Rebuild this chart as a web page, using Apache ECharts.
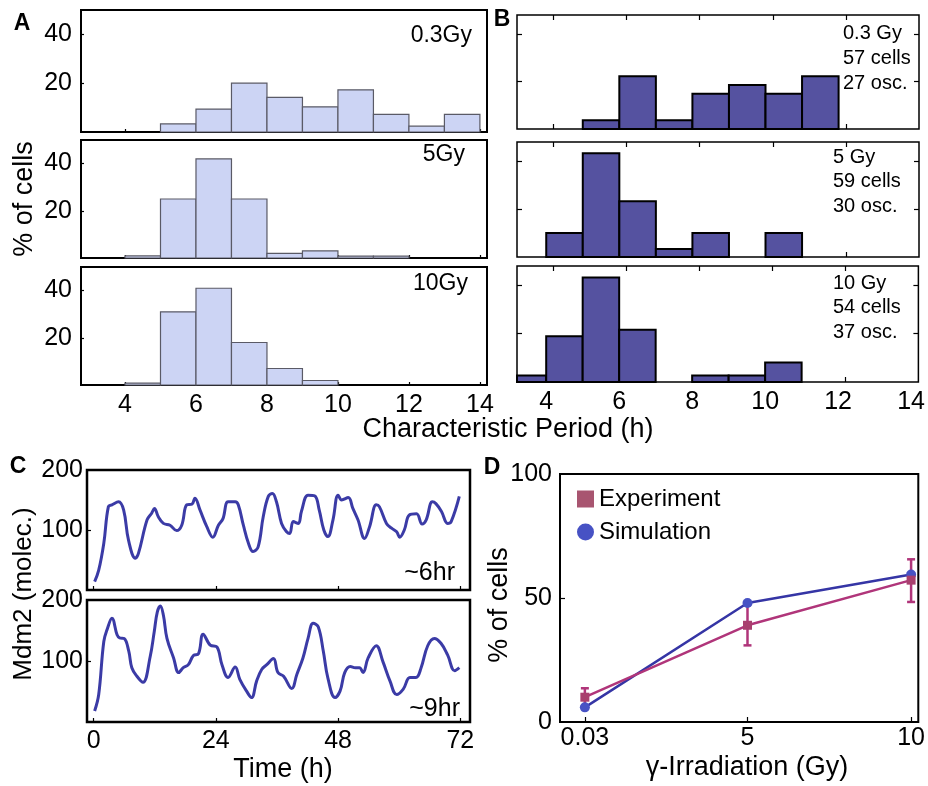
<!DOCTYPE html>
<html>
<head>
<meta charset="utf-8">
<script src="https://cdn.jsdelivr.net/npm/echarts@6/dist/echarts.min.js"></script>
<style>
  html, body { margin: 0; padding: 0; background: #fff; }
  #fig { width: 928px; height: 786px; }
</style>
</head>
<body>
<div id="fig"></div>
<script>
// ---- data ----
// A: characteristic period histograms (% of cells), bins of 1 h starting at binLeftA
const periodTicks = [4, 6, 8, 10, 12, 14];
const binLeftA = [4, 5, 6, 7, 8, 9, 10, 11, 12, 13];
const pctA_03 = [0, 3.3, 9.4, 20, 14.2, 10.3, 17.3, 7.2, 2.4, 7.2];
const pctA_5 = [0.9, 25, 42, 25, 2, 3, 0.8, 0.8, 0, 0];
const pctA_10 = [0.8, 31, 41, 18, 7, 1.9, 0, 0, 0, 0];

// B: experimental histograms
const binLeftB = [3, 4, 5, 6, 7, 8, 9, 10, 11];
const pctB_03 = [0, 0, 3.7, 22.2, 3.7, 14.8, 18.5, 14.8, 22.2];
const pctB_5 = [0, 10, 43.3, 23.3, 3.3, 10, 0, 10, 0];
const pctB_10 = [2.7, 18.9, 43.2, 21.6, 0, 2.7, 2.7, 8.1, 0];
const bTickValues = [4.2, 6.2, 8.2, 10.2, 12.2];

// C: Mdm2 time courses [time (h), molecules]
const timeTicks = [0, 24, 48, 72];
const mdm2_6hr = [[0.2,14],[1.0,33],[2.0,78],[2.9,139],[3.6,142],[4.9,147],[5.9,133],[6.85,83],[8.2,53],[8.8,61],
  [10.5,117],[11.4,128],[11.95,136],[12.7,122],[13.7,111],[15.0,108],[16.3,99],[17.3,108],[18.3,142],[19.3,143],
  [19.9,153],[20.9,133],[22.2,106],[23.4,88],[24.5,108],[25.4,119],[26.4,147],[27.8,147],[28.4,142],[29.4,108],
  [30.4,78],[31.3,64],[32.3,72],[33.3,122],[34.3,156],[35.1,161],[35.9,147],[36.9,111],[37.9,97],[38.5,94],
  [39.2,114],[40.2,111],[40.8,131],[42.1,158],[43.4,157],[44.3,133],[45.2,100],[46.0,89],[47.0,117],[48.0,158],
  [48.7,150],[50.0,154],[50.9,136],[51.9,117],[53.2,86],[54.2,106],[55.5,142],[56.1,139],[57.5,111],[58.5,103],
  [59.5,97],[60.1,88],[61.0,100],[62.0,125],[63.4,127],[64.5,110],[65.3,117],[66.5,147],[67.2,144],[68.3,131],
  [69.5,111],[70.2,114],[71.8,156]];
const mdm2_9hr = [[0.2,18],[1.0,45],[2.0,132],[2.7,153],[3.6,170],[4.6,143],[5.1,138],[6.0,137],[6.9,116],[7.5,89],
  [8.5,75],[9.7,65],[11.1,107],[11.9,148],[12.5,180],[13.1,190],[13.7,175],[14.4,137],[15.7,105],[16.7,81],
  [17.6,89],[18.6,94],[19.6,109],[20.6,112],[21.5,144],[22.9,126],[24.2,123],[25.2,94],[26.4,73],[27.8,90],
  [28.7,70],[30.0,51],[31.0,40],[32.0,67],[33.0,86],[34.0,94],[35.3,104],[36.2,81],[37.3,75],[38.9,55],
  [39.9,78],[41.1,105],[42.1,137],[43.1,162],[44.1,156],[45.1,116],[46.0,72],[47.4,40],[48.4,51],[49.3,81],
  [50.4,91],[51.4,89],[52.2,89],[52.9,81],[53.9,105],[55.5,125],[56.8,99],[58.2,67],[59.5,45],[60.8,54],
  [62.1,73],[63.3,73],[64.3,89],[65.6,125],[66.9,137],[68.2,129],[69.5,110],[70.9,84],[71.8,89]];

// D: % oscillating cells vs dose
const doses = [0.03, 5, 10];
const expPct = [10, 39, 57.2];
const expLow = [5.7, 30.9, 48.4];
const expHigh = [13.6, 47.5, 65.6];
const simPct = [5.9, 48, 59.5];

const FONT = 'Liberation Sans, Arial, sans-serif';
const tick = { show: true, inside: true, length: 4, lineStyle: { color: '#000', width: 1.2 } };
const lab = { color: '#000', fontSize: 25, fontFamily: FONT };
const noLine = { show: false, onZero: false };

function histRender(fill, stroke, lw) {
  return function (params, api) {
    const v = api.value(2);
    if (!v) return null;
    const a = api.coord([api.value(0), 0]);
    const b = api.coord([api.value(1), v]);
    const cs = params.coordSys;
    const rect = echarts.graphic.clipRectByRect(
      { x: a[0], y: b[1], width: b[0] - a[0], height: a[1] - b[1] },
      { x: cs.x, y: cs.y, width: cs.width, height: cs.height }
    );
    return rect && { type: 'rect', shape: rect, style: { fill: fill, stroke: stroke, lineWidth: lw } };
  };
}

function errRender(params, api) {
  const x = api.value(0);
  const lo = api.coord([x, api.value(1)]);
  const hi = api.coord([x, api.value(2)]);
  const w = 4;
  const st = { stroke: '#b0357a', lineWidth: 2.5 };
  return {
    type: 'group',
    children: [
      { type: 'line', shape: { x1: lo[0], y1: lo[1], x2: hi[0], y2: hi[1] }, style: st },
      { type: 'line', shape: { x1: lo[0] - w, y1: lo[1], x2: lo[0] + w, y2: lo[1] }, style: st },
      { type: 'line', shape: { x1: hi[0] - w, y1: hi[1], x2: hi[0] + w, y2: hi[1] }, style: st }
    ]
  };
}

function bins(left, vals) {
  return left.map((x, i) => [x, x + 1, vals[i]]);
}

function txt(x, y, text, size, align, opts) {
  opts = opts || {};
  return {
    type: 'text', x: x, y: y, rotation: opts.rot || 0, z: 100,
    style: {
      text: text, fill: '#000', fontSize: size, fontFamily: FONT,
      fontWeight: opts.bold ? 'bold' : 'normal',
      textAlign: align, textVerticalAlign: 'middle'
    }
  };
}

// grids: A1 A2 A3 | B1 B2 B3 | C1 C2 | D
const gridBoxes = [
  [81, 10, 406, 122], [81, 140, 406, 118], [81, 267, 406, 118],
  [517, 15, 402, 114], [517, 142, 402, 115], [517, 266, 402, 116],
  [87, 470, 383, 120], [87, 600, 383, 122],
  [560, 474, 362, 248]
];
const grid = gridBoxes.map((g, i) => ({
  left: g[0], top: g[1], width: g[2], height: g[3],
  show: true, borderColor: '#000', borderWidth: i < 3 ? 2 : (i < 6 ? 1.5 : (i < 8 ? 2.5 : 2)),
  backgroundColor: 'transparent'
}));

const xAxis = [];
const yAxis = [];
// A
for (let i = 0; i < 3; i++) {
  xAxis.push({ gridIndex: i, type: 'value', min: 2.76, max: 14.2,
    axisLine: noLine, splitLine: { show: false },
    axisTick: Object.assign({}, tick, { length: 3, customValues: periodTicks }),
    axisLabel: Object.assign({}, lab, { show: i === 2, margin: 8, customValues: periodTicks }) });
}
// B bottom
for (let i = 0; i < 3; i++) {
  xAxis.push({ gridIndex: 3 + i, type: 'value', min: 3.2, max: 14.2,
    axisLine: noLine, splitLine: { show: false },
    axisTick: Object.assign({}, tick, { length: 5, customValues: bTickValues }),
    axisLabel: Object.assign({}, lab, { show: i === 2, margin: 8, customValues: periodTicks }) });
}
// B top (ticks only)
for (let i = 0; i < 3; i++) {
  xAxis.push({ gridIndex: 3 + i, type: 'value', position: 'top', min: 3.2, max: 14.2,
    axisLine: noLine, splitLine: { show: false },
    axisTick: Object.assign({}, tick, { length: 5, customValues: bTickValues }),
    axisLabel: { show: false } });
}
// C
for (let i = 0; i < 2; i++) {
  xAxis.push({ gridIndex: 6 + i, type: 'value', min: -1.3, max: 73.9,
    axisLine: noLine, splitLine: { show: false },
    axisTick: Object.assign({}, tick, { length: 4, customValues: timeTicks }),
    axisLabel: Object.assign({}, lab, { show: i === 1, margin: 7, customValues: timeTicks }) });
}
// D
xAxis.push({ gridIndex: 8, type: 'value', min: -0.73, max: 10.22,
  axisLine: noLine, splitLine: { show: false },
  axisTick: Object.assign({}, tick, { length: 5, customValues: doses }),
  axisLabel: Object.assign({}, lab, { margin: 4, customValues: doses }) });

// y axes A
for (let i = 0; i < 3; i++) {
  yAxis.push({ gridIndex: i, type: 'value', min: 0, max: 50,
    axisLine: noLine, splitLine: { show: false },
    axisTick: Object.assign({}, tick, { length: 3, customValues: [20, 40] }),
    axisLabel: Object.assign({}, lab, { margin: 9, customValues: [20, 40] }) });
}
// B left
for (let i = 0; i < 3; i++) {
  yAxis.push({ gridIndex: 3 + i, type: 'value', min: 0, max: 48,
    axisLine: noLine, splitLine: { show: false },
    axisTick: Object.assign({}, tick, { length: 5, customValues: [20, 40] }),
    axisLabel: { show: false } });
}
// B right
for (let i = 0; i < 3; i++) {
  yAxis.push({ gridIndex: 3 + i, type: 'value', position: 'right', min: 0, max: 48,
    axisLine: noLine, splitLine: { show: false },
    axisTick: Object.assign({}, tick, { length: 5, customValues: [20, 40] }),
    axisLabel: { show: false } });
}
// C
for (let i = 0; i < 2; i++) {
  yAxis.push({ gridIndex: 6 + i, type: 'value', min: 0, max: 200,
    axisLine: noLine, splitLine: { show: false },
    axisTick: Object.assign({}, tick, { length: 4, customValues: [100] }),
    axisLabel: Object.assign({}, lab, { margin: 4, customValues: [100, 200] }) });
}
// D
yAxis.push({ gridIndex: 8, type: 'value', min: 0, max: 100,
  axisLine: noLine, splitLine: { show: false },
  axisTick: Object.assign({}, tick, { length: 5, customValues: [50] }),
  axisLabel: Object.assign({}, lab, { margin: 8, customValues: [0, 50, 100] }) });

const lightFill = '#ccd4f4', lightEdge = '#5a5a66';
const darkFill = '#5552a0', darkEdge = '#000';

const series = [
  { type: 'custom', xAxisIndex: 0, yAxisIndex: 0, renderItem: histRender(lightFill, lightEdge, 1.2), encode: { x: [0, 1], y: 2 }, data: bins(binLeftA, pctA_03) },
  { type: 'custom', xAxisIndex: 1, yAxisIndex: 1, renderItem: histRender(lightFill, lightEdge, 1.2), encode: { x: [0, 1], y: 2 }, data: bins(binLeftA, pctA_5) },
  { type: 'custom', xAxisIndex: 2, yAxisIndex: 2, renderItem: histRender(lightFill, lightEdge, 1.2), encode: { x: [0, 1], y: 2 }, data: bins(binLeftA, pctA_10) },
  { type: 'custom', xAxisIndex: 3, yAxisIndex: 3, renderItem: histRender(darkFill, darkEdge, 2), encode: { x: [0, 1], y: 2 }, data: bins(binLeftB, pctB_03) },
  { type: 'custom', xAxisIndex: 4, yAxisIndex: 4, renderItem: histRender(darkFill, darkEdge, 2), encode: { x: [0, 1], y: 2 }, data: bins(binLeftB, pctB_5) },
  { type: 'custom', xAxisIndex: 5, yAxisIndex: 5, renderItem: histRender(darkFill, darkEdge, 2), encode: { x: [0, 1], y: 2 }, data: bins(binLeftB, pctB_10) },
  { type: 'line', xAxisIndex: 9, yAxisIndex: 9, data: mdm2_6hr, smooth: 0.4, showSymbol: false,
    lineStyle: { color: '#3b3ba6', width: 3 } },
  { type: 'line', xAxisIndex: 10, yAxisIndex: 10, data: mdm2_9hr, smooth: 0.4, showSymbol: false,
    lineStyle: { color: '#3b3ba6', width: 3 } },
  { name: 'Simulation', type: 'line', xAxisIndex: 11, yAxisIndex: 11,
    data: doses.map((d, i) => [d, simPct[i]]), symbol: 'circle', symbolSize: 10,
    lineStyle: { color: '#3535a5', width: 2.5 }, itemStyle: { color: '#4752c4' } },
  { name: 'Experiment', type: 'line', xAxisIndex: 11, yAxisIndex: 11,
    data: doses.map((d, i) => [d, expPct[i]]), symbol: 'rect', symbolSize: 9,
    lineStyle: { color: '#b0357a', width: 2.5 }, itemStyle: { color: '#a8406e' } },
  { type: 'custom', xAxisIndex: 11, yAxisIndex: 11, renderItem: errRender, encode: { x: 0, y: [1, 2] },
    data: doses.map((d, i) => [d, expLow[i], expHigh[i]]) }
];

const graphic = [
  txt(22, 24, 'A', 23, 'center', { bold: true }),
  txt(502, 20, 'B', 23, 'center', { bold: true }),
  txt(18, 467, 'C', 23, 'center', { bold: true }),
  txt(492, 468, 'D', 23, 'center', { bold: true }),
  txt(472, 36, '0.3Gy', 23, 'right'),
  txt(465, 155, '5Gy', 23, 'right'),
  txt(468, 284, '10Gy', 23, 'right'),
  txt(843, 33, '0.3 Gy', 20, 'left'),
  txt(843, 58, '57 cells', 20, 'left'),
  txt(843, 83, '27 osc.', 20, 'left'),
  txt(833, 157, '5 Gy', 20, 'left'),
  txt(833, 181, '59 cells', 20, 'left'),
  txt(833, 206, '30 osc.', 20, 'left'),
  txt(833, 283, '10 Gy', 20, 'left'),
  txt(833, 307, '54 cells', 20, 'left'),
  txt(833, 332, '37 osc.', 20, 'left'),
  txt(455, 573, '~6hr', 25, 'right'),
  txt(460, 709, '~9hr', 25, 'right'),
  txt(25, 199, '% of cells', 27, 'center', { rot: Math.PI / 2 }),
  txt(508, 430, 'Characteristic Period (h)', 27, 'center'),
  txt(24, 594, 'Mdm2 (molec.)', 26, 'center', { rot: Math.PI / 2 }),
  txt(283, 770, 'Time (h)', 27, 'center'),
  txt(500, 605, '% of cells', 27, 'center', { rot: Math.PI / 2 }),
  txt(747, 768, 'γ-Irradiation (Gy)', 27, 'center')
];

const chart = echarts.init(document.getElementById('fig'));
chart.setOption({
  animation: false,
  backgroundColor: '#fff',
  grid: grid,
  xAxis: xAxis,
  yAxis: yAxis,
  legend: {
    left: 572, top: 482, orient: 'vertical', itemWidth: 17, itemHeight: 17, itemGap: 9,
    textStyle: { fontSize: 24, color: '#000', fontFamily: FONT },
    data: [
      { name: 'Experiment', icon: 'rect', itemStyle: { color: '#a85570' } },
      { name: 'Simulation', icon: 'circle', itemStyle: { color: '#4752c4' } }
    ]
  },
  graphic: graphic,
  series: series
});
</script>
</body>
</html>
